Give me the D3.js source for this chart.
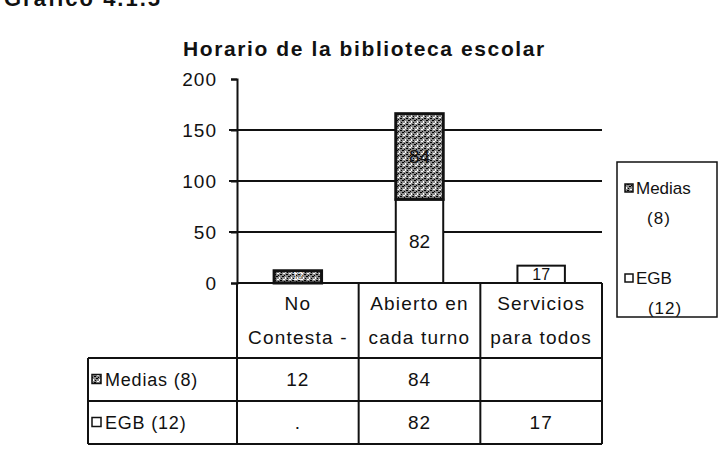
<!DOCTYPE html>
<meta charset="utf-8">
<style>
	body { margin: 0; background: #fff; font-family: "Liberation Sans", Arial, sans-serif; }
	text { fill: #111; }
	.grid line { stroke: #111; stroke-width: 2; }
	.tbl line { stroke: #111; stroke-width: 2; }
</style>
<body>
<svg id="chart" width="728" height="449">
	<defs>
		<pattern id="speck" width="6" height="6" patternUnits="userSpaceOnUse">
			<rect width="6" height="6" fill="#8a8a8a"/>
			<rect x="0" y="0" width="2" height="1" fill="#000"/>
			<rect x="3" y="1" width="1" height="2" fill="#fff"/>
			<rect x="1" y="3" width="2" height="1" fill="#fff"/>
			<rect x="4" y="4" width="2" height="1" fill="#000"/>
			<rect x="2" y="5" width="1" height="1" fill="#000"/>
			<rect x="5" y="2" width="1" height="1" fill="#000"/>
		</pattern>
	</defs>
</svg>
<script src="https://d3js.org/d3.v7.min.js"></script>
<script>
// data
var categories = ["No Contesta -", "Abierto en cada turno", "Servicios para todos"];
var categoryLines = [["No", "Contesta -"], ["Abierto en", "cada turno"], ["Servicios", "para todos"]];
var seriesNames = ["Medias (8)", "EGB (12)"];
var mediasValues = [12, 84, null];
var egbValues = [null, 82, 17];
var yTicks = [0, 50, 100, 150, 200];
var title = "Horario de la biblioteca escolar";

var svg = d3.select("#chart");

var plot = {left: 237, right: 602, top: 79, bottom: 283};
var tableLeft = 88, headerBottom = 358, rowH = 43;

var x = d3.scaleBand().domain(categories).range([plot.left, plot.right]).padding(0);
var y = d3.scaleLinear().domain([0, 200]).range([plot.bottom, plot.top]);
var barW = x.bandwidth() * 0.39;

// caption cut by the top edge in the scan
svg.append("text").attr("x", 4).attr("y", 6)
	.style("font-size", "22px").style("font-weight", "bold").style("letter-spacing", "2px")
	.text("Gráfico 4.1.5");

svg.append("text").attr("x", 183).attr("y", 56)
	.style("font-size", "21px").style("font-weight", "bold").style("letter-spacing", "1.6px")
	.text(title);

// gridlines + ticks
var grid = svg.append("g").attr("class", "grid");
grid.selectAll("line").data(yTicks.filter(function(t) { return t > 0 && t < 200; }))
	.enter().append("line")
	.attr("x1", plot.left - 8).attr("x2", plot.right)
	.attr("y1", function(d) { return y(d); }).attr("y2", function(d) { return y(d); });

var yAxis = svg.append("g").attr("transform", "translate(" + plot.left + ",0)")
	.call(d3.axisLeft(y).tickValues(yTicks).tickSize(6).tickPadding(14));
yAxis.select(".domain").attr("stroke", "#111").attr("stroke-width", 2);
yAxis.selectAll(".tick line").attr("stroke", "#111").attr("stroke-width", 2);
yAxis.selectAll(".tick text").style("font-size", "19px").style("letter-spacing", "1px")
	.style("font-family", "'Liberation Sans', Arial").attr("fill", "#111");

// bars
var rows = categories.map(function(c, i) {
	return {cat: c, medias: mediasValues[i] || 0, egb: egbValues[i] || 0};
});
var stack = d3.stack().keys(["egb", "medias"])(rows);
var fills = {egb: "#fff", medias: "url(#speck)"};

stack.forEach(function(layer) {
	var g = svg.append("g");
	var segs = layer.filter(function(d) { return d[1] - d[0] > 0; });
	g.selectAll("rect").data(segs).enter().append("rect")
		.attr("x", function(d) { return x(d.data.cat) + (x.bandwidth() - barW) / 2; })
		.attr("width", barW)
		.attr("y", function(d) { return y(d[1]); })
		.attr("height", function(d) { return y(d[0]) - y(d[1]); })
		.attr("fill", fills[layer.key])
		.attr("stroke", "#111")
		.attr("stroke-width", layer.key == "medias" ? 3 : 2);
	g.selectAll("text").data(segs).enter().append("text")
		.attr("x", function(d) { return x(d.data.cat) + x.bandwidth() / 2; })
		.attr("y", function(d) { return (y(d[0]) + y(d[1])) / 2; })
		.attr("dy", "0.36em")
		.attr("text-anchor", "middle")
		.style("font-size", function(d) {
			var h = y(d[0]) - y(d[1]);
			return h < 20 ? (layer.key == "medias" ? "10px" : "16px") : "19px";
		})
		.style("fill", function(d) { return layer.key == "medias" && y(d[0]) - y(d[1]) < 20 ? "#fff" : "#111"; })
		.text(function(d) { return d[1] - d[0]; });
});

// data table
var tbl = svg.append("g").attr("class", "tbl");
var tableBottom = headerBottom + 2 * rowH;
tbl.append("line").attr("x1", plot.left).attr("x2", plot.left).attr("y1", plot.bottom).attr("y2", tableBottom);
x.domain().forEach(function(c) {
	tbl.append("line").attr("x1", x(c) + x.bandwidth()).attr("x2", x(c) + x.bandwidth())
		.attr("y1", plot.bottom).attr("y2", tableBottom);
});
tbl.append("line").attr("x1", plot.left).attr("x2", plot.right).attr("y1", plot.bottom).attr("y2", plot.bottom);
[headerBottom, headerBottom + rowH, tableBottom].forEach(function(yy) {
	tbl.append("line").attr("x1", tableLeft).attr("x2", plot.right).attr("y1", yy).attr("y2", yy);
});
tbl.append("line").attr("x1", tableLeft).attr("x2", tableLeft).attr("y1", headerBottom).attr("y2", tableBottom);

categories.forEach(function(c, i) {
	var t = svg.append("text").attr("text-anchor", "middle")
		.style("font-size", "19px").style("letter-spacing", "1.2px");
	categoryLines[i].forEach(function(line, k) {
		t.append("tspan").attr("x", x(c) + x.bandwidth() / 2).attr("y", 310 + k * 34).text(line);
	});
});

function cellText(v, empty) { return v == null ? empty : v; }
var tableRows = [
	{name: seriesNames[0], vals: mediasValues, fill: "url(#speck)", empty: ""},
	{name: seriesNames[1], vals: egbValues, fill: "#fff", empty: "."}
];
tableRows.forEach(function(r, k) {
	var cy = headerBottom + rowH * k + rowH / 2;
	svg.append("rect").attr("x", 92).attr("y", cy - 5).attr("width", 9).attr("height", 9)
		.attr("fill", r.fill).attr("stroke", "#111").attr("stroke-width", 1.5);
	svg.append("text").attr("x", 105).attr("y", cy).attr("dy", "0.36em")
		.style("font-size", "18px").style("letter-spacing", "0.8px").text(r.name);
	categories.forEach(function(c, i) {
		svg.append("text").attr("x", x(c) + x.bandwidth() / 2).attr("y", cy).attr("dy", "0.36em")
			.attr("text-anchor", "middle").style("font-size", "19px").style("letter-spacing", "1px")
			.text(cellText(r.vals[i], r.empty));
	});
});

// legend
var lg = svg.append("g").attr("transform", "translate(617,162)");
lg.append("rect").attr("width", 100).attr("height", 155).attr("fill", "none")
	.attr("stroke", "#111").attr("stroke-width", 1.5);
tableRows.forEach(function(r, k) {
	var parts = r.name.split(" ");
	var by = 32 + k * 90;
	lg.append("rect").attr("x", 8).attr("y", by - 10).attr("width", 8).attr("height", 8)
		.attr("fill", r.fill).attr("stroke", "#111").attr("stroke-width", 1.5);
	lg.append("text").attr("x", 19).attr("y", by).style("font-size", "17px").text(parts[0]);
	lg.append("text").attr("x", 42 + k * 6).attr("y", by + 30).attr("text-anchor", "middle")
		.style("font-size", "17px").style("letter-spacing", "1px").text(parts[1]);
});
</script>
</body>
